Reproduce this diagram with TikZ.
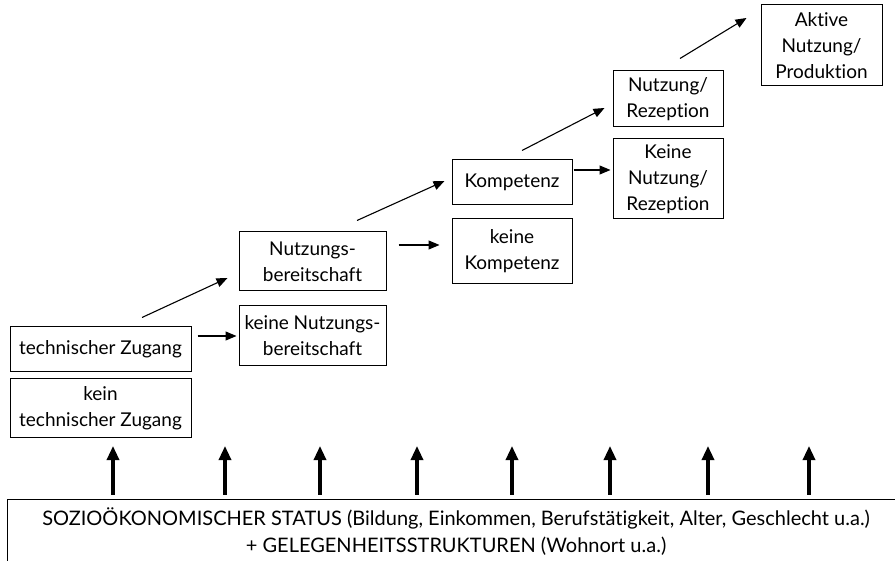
\documentclass[tikz,border=0pt]{standalone}
\usepackage{fontspec}
\setmainfont{Lato}[Ligatures=NoCommon]
\usetikzlibrary{arrows.meta,calc}
\begin{document}
\begin{tikzpicture}[x=1pt,y=-1pt,
  box/.style={draw,line width=1pt,rectangle,align=center,inner sep=0pt,
    font=\fontsize{19}{26}\selectfont},
  arr/.style={line width=1.1pt,-{Triangle[length=11pt,width=9pt]}},
  uparr/.style={line width=3.2pt,-{Triangle[length=14pt,width=12pt]}}]
\useasboundingbox (0,0) rectangle (895,561);
\clip (0,0) rectangle (895,561);
\node[box,minimum width=181pt,minimum height=45pt] (A) at (100.5,349.5) {technischer Zugang};
\node[box,minimum width=181pt,minimum height=59pt] (B) at (100.5,408.5) {kein\\technischer Zugang};
\node[box,minimum width=147pt,minimum height=60pt] (C) at (312.5,336) {keine Nutzungs-\\bereitschaft};
\node[box,minimum width=147pt,minimum height=59pt] (D) at (312.5,261.5) {Nutzungs-\\bereitschaft};
\node[box,minimum width=120pt,minimum height=65pt] (E) at (512,251.5) {keine\\Kompetenz};
\node[box,minimum width=120pt,minimum height=45pt] (F) at (512,182.5) {Kompetenz};
\node[box,minimum width=110pt,minimum height=56pt] (G) at (668,99) {Nutzung/\\Rezeption};
\node[box,minimum width=110pt,minimum height=80pt] (H) at (668,179) {Keine\\Nutzung/\\Rezeption};
\node[box,minimum width=121pt,minimum height=81pt] (I) at (821.5,45.5) {Aktive\\Nutzung/\\Produktion};
\node[box,minimum width=898pt,minimum height=66pt,font=\fontsize{20}{27}\selectfont] (S) at (456,532)
  {SOZIOÖKONOMISCHER STATUS (Bildung, Einkommen, Berufstätigkeit, Alter, Geschlecht u.a.)\\+ GELEGENHEITSSTRUKTUREN (Wohnort u.a.)};
% horizontal arrows
\draw[arr] ($(A.east)+(6,-13.5)$) -- ($(C.west)+(-2,0)$);
\draw[arr] ($(D.east)+(12,-16.5)$) -- ($(E.west)+(-12,-6.5)$);
\draw[arr] ($(F.east)+(1,-12.5)$) -- ($(H.west)+(-2,-9)$);
% diagonal arrows
\draw[arr] ($(A.north)+(41.5,-9)$) -- ($(D.west)+(-11,16.5)$);
\draw[arr] ($(D.north)+(44.5,-11)$) -- ($(F.west)+(-7,-1.5)$);
\draw[arr] ($(F.north)+(10,-9)$) -- ($(G.west)+(-8,9)$);
\draw[arr] ($(G.north)+(12,-12)$) -- ($(I.west)+(-14,-27.5)$);
% vertical arrows
\foreach \x in {113,225,320,417,512,610,708,809}
  \draw[uparr,shorten <=4pt] (S.north -| \x,0) -- (\x,446);
\end{tikzpicture}
\end{document}
